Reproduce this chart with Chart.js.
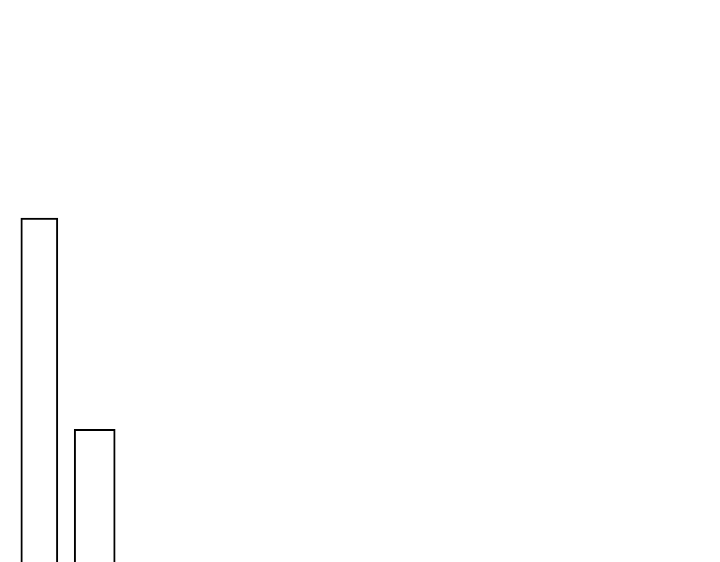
<!DOCTYPE html>
<html>
<head>
<meta charset="utf-8">
<style>
  html, body { margin: 0; padding: 0; background: #fff; }
  #myChart { display: block; }
</style>
<script src="https://cdn.jsdelivr.net/npm/chart.js"></script>
</head>
<body>
<canvas id="myChart" width="720" height="562"></canvas>
<script>
const ctx = document.getElementById('myChart');

// values
const categories = [1, 2];
const values = [61.2, 23.6];

new Chart(ctx, {
  type: 'bar',
  data: {
    datasets: [
      {
        data: [{ x: categories[0], y: values[0] }],
        barThickness: 37,
        borderWidth: 2,
        borderColor: '#000',
        backgroundColor: '#fff',
        grouped: false
      },
      {
        data: [{ x: categories[1], y: values[1] }],
        barThickness: 41,
        borderWidth: 2,
        borderColor: '#000',
        backgroundColor: '#fff',
        grouped: false
      }
    ]
  },
  options: {
    responsive: false,
    animation: false,
    devicePixelRatio: 1,
    layout: { padding: 0 },
    plugins: { legend: { display: false }, tooltip: { enabled: false } },
    scales: {
      x: { type: 'linear', min: 0.29, max: 13.29, offset: false, grid: { offset: false }, display: false },
      y: { min: 0, max: 100, display: false }
    }
  }
});
</script>
</body>
</html>
